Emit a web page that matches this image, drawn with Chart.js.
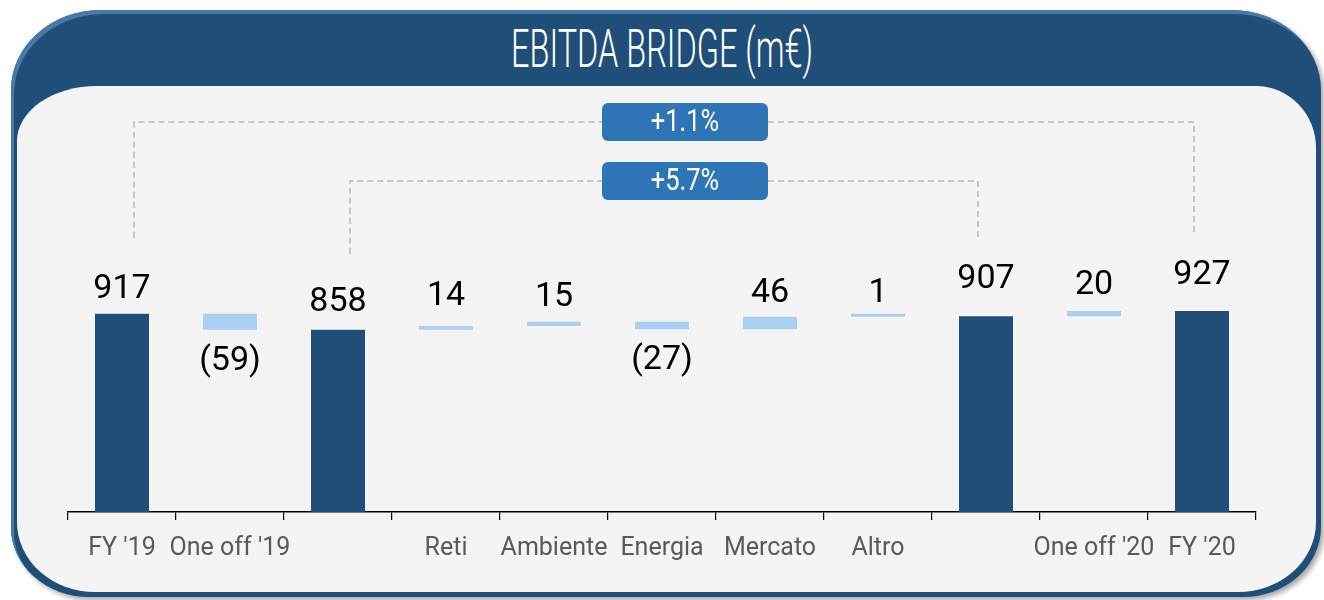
<!DOCTYPE html>
<html>
<head>
<meta charset="utf-8">
<script src="https://cdn.jsdelivr.net/npm/chart.js@4"></script>
<style>
  html, body { margin:0; padding:0; background:#ffffff; }
  body { width:1324px; height:600px; position:relative; overflow:hidden; }
  #outer { position:absolute; left:11px; top:10px; width:1310px; height:587px;
           background:#1f4e79; border-radius:90px 90px 78px 78px / 80px 80px 70px 70px;
           box-shadow: inset 3px 4px 0 #4a78a8, 3px 3px 5px rgba(0,0,0,0.35); }
  #inner { position:absolute; left:17px; top:86px; width:1299px; height:506px;
           background:#f4f4f4; border-radius:80px 60px 78px 78px / 55px 62px 70px 70px; }
  #title { position:absolute; left:0; top:18px; width:1324px; height:62px; text-align:center;
           color:#ffffff; font-family:'Roboto', sans-serif; font-weight:300; font-size:54px; line-height:62px; }
  #title span { display:inline-block; transform-origin:center center; white-space:nowrap; }
  #c { position:absolute; left:0; top:0; }
</style>
</head>
<body>
<div id="outer"></div>
<div id="inner"></div>
<div id="title"><span id="tspan">EBITDA BRIDGE (m€)</span></div>
<canvas id="c" width="1324" height="600"></canvas>
<script>
// ---- data ----
const categories = ["FY '19", "One off '19", "", "Reti", "Ambiente", "Energia", "Mercato", "Altro", "", "One off '20", "FY '20"];
const values     = [917, -59, 858, 14, 15, -27, 46, 1, 907, 20, 927];
const isTotal    = [true, false, true, false, false, false, false, false, true, false, true];
const bridgeFrom = [0, 2];
const bridgeTo   = [10, 8];
const bridgeText = ["+1.1%", "+5.7%"];

// title width fit
(function(){
  const s = document.getElementById('tspan');
  const w = s.getBoundingClientRect().width;
  s.style.transform = 'scaleX(' + (302 / w) + ')';
})();

// floating bars built from the data
let running = 0;
const floating = values.map((v, i) => {
  if (isTotal[i]) { running = v; return [0, v]; }
  const start = running; running += v; return [start, running];
});

const darkBlue = '#1f4e79';
const lightBlue = '#aacff3';

const labelPlugin = {
  id: 'valueLabels',
  afterDatasetsDraw(chart, args, opts) {
    const ctx = chart.ctx;
    const meta = chart.getDatasetMeta(0);
    ctx.save();
    ctx.font = '34px Roboto, sans-serif';
    ctx.fillStyle = '#000000';
    ctx.textAlign = 'center';
    ctx.textBaseline = 'alphabetic';
    meta.data.forEach((el, i) => {
      const v = values[i];
      const top = Math.min(el.y, el.base);
      const bottom = Math.max(el.y, el.base);
      if (v >= 0) {
        ctx.fillText(String(v), el.x, top - opts.gaps[i]);
      } else {
        ctx.fillText('(' + Math.abs(v) + ')', el.x, bottom + opts.below);
      }
    });
    ctx.restore();
  }
};

const bridgePlugin = {
  id: 'bridges',
  afterDatasetsDraw(chart, args, opts) {
    const ctx = chart.ctx;
    const meta = chart.getDatasetMeta(0);
    const area = chart.chartArea;
    ctx.save();
    bridgeFrom.forEach((f, k) => {
      const a = meta.data[f], b = meta.data[bridgeTo[k]];
      const xL = a.x + opts.leftShift, xR = b.x - opts.rightShift;
      const yLine = area.top + opts.lineOffsets[k];
      const yA = Math.min(a.y, a.base) - opts.drop;
      const yB = Math.min(b.y, b.base) - opts.drop;
      const bx = opts.boxCenterX, bw = opts.boxW, bh = opts.boxH;
      ctx.strokeStyle = '#aeb9c8';
      ctx.lineWidth = 1.5;
      ctx.setLineDash([6, 4]);
      ctx.beginPath();
      ctx.moveTo(xL, yA); ctx.lineTo(xL, yLine); ctx.lineTo(bx - bw / 2, yLine);
      ctx.moveTo(bx + bw / 2, yLine); ctx.lineTo(xR, yLine); ctx.lineTo(xR, yB);
      ctx.stroke();
      ctx.setLineDash([]);
      ctx.fillStyle = '#2e75b6';
      ctx.beginPath();
      ctx.roundRect(bx - bw / 2, yLine - bh / 2, bw, bh, 6);
      ctx.fill();
      ctx.fillStyle = '#ffffff';
      ctx.font = '31px Roboto, sans-serif';
      ctx.textAlign = 'center';
      ctx.textBaseline = 'middle';
      ctx.save();
      ctx.translate(bx, yLine + 1);
      ctx.scale(0.82, 1);
      ctx.fillText(bridgeText[k], 0, 0);
      ctx.restore();
    });
    ctx.restore();
  }
};

new Chart(document.getElementById('c'), {
  type: 'bar',
  data: {
    labels: categories,
    datasets: [{
      data: floating,
      backgroundColor: values.map((v, i) => isTotal[i] ? darkBlue : lightBlue),
      borderWidth: 0,
      minBarLength: 3,
      categoryPercentage: 1,
      barPercentage: 0.5
    }]
  },
  options: {
    responsive: false,
    animation: false,
    devicePixelRatio: 1,
    layout: { padding: { left: 68, right: 68, top: 100, bottom: 28 } },
    plugins: {
      legend: { display: false },
      tooltip: { enabled: false },
      valueLabels: { gaps: [16, 0, 19, 21, 16, 0, 15, 12, 28, 17, 27], below: 40 },
      bridges: { leftShift: 12, rightShift: 8, lineOffsets: [22, 81], drop: 76,
                 boxCenterX: 685, boxW: 166, boxH: 38 }
    },
    scales: {
      x: {
        afterFit(scale) { scale.height = 60; },
        grid: { display: true, drawOnChartArea: false, drawTicks: true, tickLength: 8,
                color: '#000000', offset: true, lineWidth: 1.2 },
        border: { display: true, color: '#000000', width: 1.5 },
        ticks: { color: '#595959', font: { family: 'Roboto', size: 25 }, padding: 14,
                 maxRotation: 0, autoSkip: false }
      },
      y: { display: false, min: 190, max: 1700 }
    }
  },
  plugins: [labelPlugin, bridgePlugin]
});
</script>
</body>
</html>
